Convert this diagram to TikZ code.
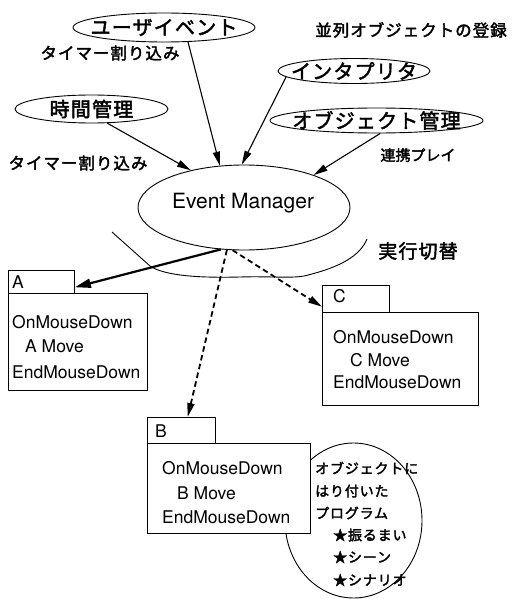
\documentclass[tikz,border=0pt]{standalone}
\usepackage{fontspec}
\setmainfont{TeX Gyre Heros}
\newfontfamily\jpwide{Noto Sans CJK JP}[LetterSpace=6,FakeBold=2.2]
\newfontfamily\jpplain{Noto Sans CJK JP}[FakeBold=2.2]
\usetikzlibrary{shapes.geometric,arrows.meta}

\begin{document}
\begin{tikzpicture}[x=1pt,y=-1pt,
  bubble/.style={draw, ellipse, line width=0.9pt, inner sep=0pt},
  jplabel/.style={inner sep=0pt, font=\jpwide\fontsize{20}{22}\selectfont},
  jpnote/.style={inner sep=0pt, font=\jpwide\fontsize{16.5}{19}\selectfont},
  jpsmall/.style={inner sep=0pt, anchor=west, font=\jpwide\fontsize{14}{16}\selectfont},
  code/.style={inner sep=0pt, anchor=west, font=\fontsize{17.5}{20}\selectfont},
  frame/.style={draw, line width=0.9pt, fill=white, inner sep=0pt, anchor=north west},
  flow/.style={line width=1.1pt, -{Triangle[length=14pt,width=7pt]}},
  boldflow/.style={line width=2.2pt, -{Triangle[length=16pt,width=9pt]}},
  dashflow/.style={line width=1.8pt, dash pattern=on 5.5pt off 3.5pt, -{Triangle[length=14pt,width=7pt]}}
]
\useasboundingbox (0,0) rectangle (513,599);

% sources around the event manager
\node[bubble, minimum width=182pt, minimum height=29pt] (ue) at (164,27.5) {};
\node[jplabel] (ue-t) at (ue) {ユーザイベント};
\node[bubble, minimum width=153pt, minimum height=28pt] (tm) at (91.5,109) {};
\node[jplabel] (tm-t) at (tm) {時間管理};
\node[bubble, minimum width=152pt, minimum height=25pt] (ip) at (354,71) {};
\node[jplabel] (ip-t) at (ip) {インタプリタ};
\node[bubble, minimum width=213pt, minimum height=25pt] (om) at (376.5,120.5) {};
\node[jplabel] (om-t) at (om) {オブジェクト管理};

% event manager
\node[bubble, minimum width=212pt, minimum height=85pt] (em) at (244,207.5) {};
\node[inner sep=0pt, font=\fontsize{21}{25}\selectfont] (em-t) at (243,203) {Event Manager};

% annotations
\node[jpnote] (n1) at (110,53) {タイマー割り込み};
\node[jpnote] (n2) at (411,30) {並列オブジェクトの登録};
\node[jpnote] (n3) at (78,163) {タイマー割り込み};
\node[inner sep=0pt, font=\jpplain\fontsize{15}{17}\selectfont] (n4) at (418,155) {連携プレイ};
\node[inner sep=0pt, font=\jpwide\fontsize{19}{22}\selectfont] (n5) at (418,251) {実行切替};

% execution switching curve
\draw[line width=0.9pt] (112,232) -- (150,266)
  .. controls (165,276) and (200,278) .. (240,277)
  .. controls (272,276) and (296,279) .. (308,275)
  .. controls (340,267) and (360,256) .. (367,239);

% object A
\node[frame, minimum width=66pt, minimum height=23pt] (atab) at (8,270) {};
\node[frame, minimum width=139pt, minimum height=97pt] (abody) at (8,293) {};
\node[code] (a0) at (12,282) {A};
\node[code] (a1) at (12,322) {OnMouseDown};
\node[code] (a2) at (25,346) {A Move};
\node[code] (a3) at (12,372) {EndMouseDown};

% object C
\node[frame, minimum width=67pt, minimum height=27pt] (ctab) at (322,285) {};
\node[frame, minimum width=156pt, minimum height=93pt] (cbody) at (322,312) {};
\node[code] (c0) at (333,296) {C};
\node[code] (c1) at (333,337) {OnMouseDown};
\node[code] (c2) at (350,360) {C Move};
\node[code] (c3) at (333,382) {EndMouseDown};

% program attached to B
\node[draw, ellipse, line width=0.9pt, inner sep=0pt, minimum width=137pt, minimum height=155pt] (prog) at (353.5,520.5) {};

% object B
\node[frame, minimum width=68pt, minimum height=26pt] (btab) at (147,417) {};
\node[frame, minimum width=163pt, minimum height=90pt] (bbody) at (147,443) {};
\node[code] (b0) at (155,431) {B};
\node[code] (b1) at (162,468) {OnMouseDown};
\node[code] (b2) at (177,493) {B Move};
\node[code] (b3) at (162,517) {EndMouseDown};

\node[jpsmall] (p1) at (315,468) {オブジェクトに};
\node[jpsmall] (p2) at (315,491) {はり付いた};
\node[jpsmall] (p3) at (315,513) {プログラム};
\node[jpsmall] (p4) at (333,535) {★振るまい};
\node[jpsmall] (p5) at (333,557) {★シーン};
\node[jpsmall] (p6) at (333,580) {★シナリオ};

% connectors
\draw[flow] (ue.329) -- (em.120);
\draw[flow] (tm.318) -- (em.145);
\draw[flow] (ip.185) -- (em.93);
\draw[flow] (om.286) -- (em.25);
\draw[boldflow] (em.241) -- (atab.351);
\draw[dashflow] (em.248) -- (btab.65);
\draw[dashflow] (em.255) -- (ctab.193);
\end{tikzpicture}
\end{document}
